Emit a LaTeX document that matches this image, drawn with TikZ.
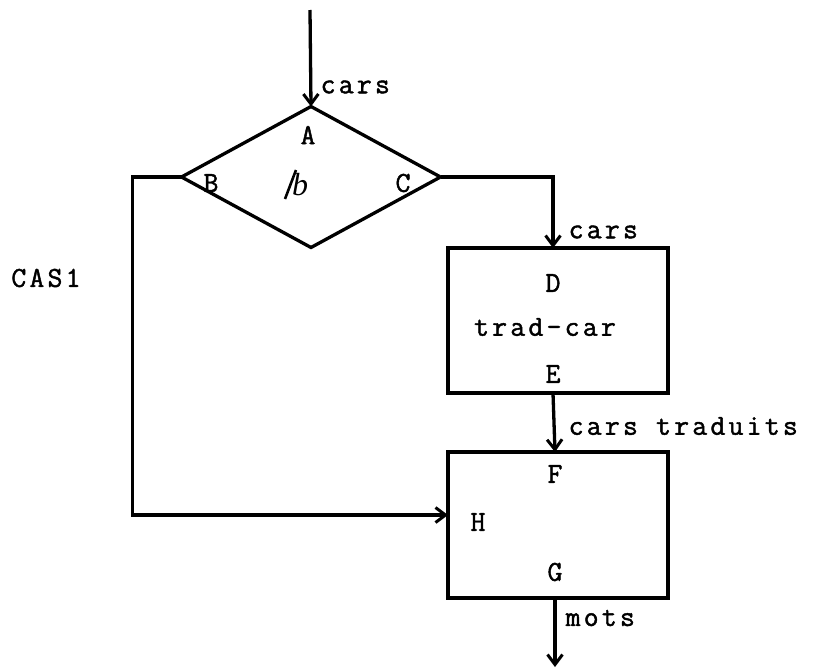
\documentclass[tikz,border=0pt]{standalone}
\usepackage{fontspec}
\setmonofont[LetterSpace=11,FakeBold=1.5]{Latin Modern Mono}
\newfontfamily\slashfont{Liberation Serif}
\usetikzlibrary{shapes.geometric,arrows.meta}
\begin{document}
\begin{tikzpicture}[x=1pt,y=-1pt,
  line width=3.3pt,
  arr/.style={-{Straight Barb[length=10pt,width=15pt,line width=3pt]}},
  lbl/.style={font=\ttfamily\fontsize{29}{31}\selectfont,inner sep=0pt},
  boxnode/.style={draw,minimum width=220pt,minimum height=145pt,inner sep=0pt,outer sep=0pt}]
\useasboundingbox (0,0) rectangle (817,667);
% shapes
\node[draw,diamond,minimum width=259pt,minimum height=141pt,inner sep=0pt,outer sep=0pt] (dec) at (311,177) {};
\node[boxnode] (D) at (558,320.5) {};
\node[boxnode,minimum height=146pt] (F) at (558,525) {};
% free ends
\coordinate (start) at (310,10);
\coordinate (end) at (555,667);
% connectors
\draw[arr] (start) -- (dec.north);
\draw[arr] (dec.east) -| ([xshift=-5pt]D.north);
\draw[arr] ([xshift=-5pt]D.south) -- ([xshift=-3pt]F.north);
\draw[arr] ([xshift=-3pt]F.south) -- (end);
\draw[arr] (dec.west) -- ++(-49,0) |- ([yshift=10pt]F.west);
% labels
\node[lbl,anchor=west] (l1) at (319,87) {cars};
\node[lbl,anchor=west] (l2) at (567,232) {cars};
\node[lbl,anchor=west] (l3) at (567,426) {cars traduits};
\node[lbl,anchor=west] (l4) at (564,618) {mots};
\node[lbl] (cas) at (46,278) {CAS1};
\node[lbl] (a) at (308,135) {A};
\node[lbl] (b) at (211,183) {B};
\node[lbl] (c) at (403,183) {C};
\node[inner sep=0pt,font=\slashfont\itshape\fontsize{32}{34}\selectfont] (blank) at (300,185) {b};
\coordinate (s1) at (285,199);
\coordinate (s2) at (296,170);
\draw[line width=2.6pt] (s1) -- (s2);
\node[lbl] (d) at (553,283) {D};
\node[lbl] (t) at (545,327) {trad-car};
\node[lbl] (e) at (553,374) {E};
\node[lbl] (f) at (555,474) {F};
\node[lbl] (h) at (478,522) {H};
\node[lbl] (g) at (555,572) {G};
\end{tikzpicture}
\end{document}
